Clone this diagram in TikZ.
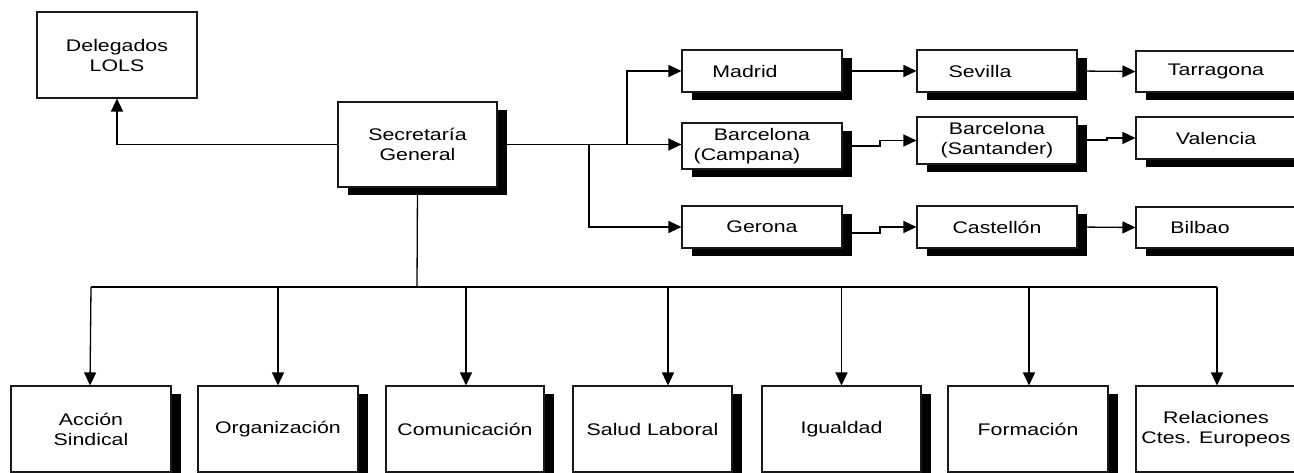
\documentclass[tikz,border=0pt]{standalone}
\usepackage{fontspec}
\setmainfont{Liberation Sans}[FakeStretch=1.27]
\usetikzlibrary{shadows,arrows.meta,calc}
\begin{document}
\begin{tikzpicture}[x=1pt,y=-1pt,
  box/.style={draw=black!90, line width=1.1pt, fill=white, align=center, inner sep=0pt,
    font=\fontsize{16.8}{20}\selectfont, text=black},
  sbox/.style={box, drop shadow={shadow xshift=10pt, shadow yshift=-8pt, fill=black, opacity=1}},
  arr/.style={line width=1.3pt, -{Triangle[length=13pt,width=12pt]}},
  ln/.style={line width=1.3pt}]
\clip (0,0) rectangle (1294,473);
\fill[white] (0,0) rectangle (1294,473);
% top-left
\node[box, minimum width=160pt, minimum height=86pt] (del) at (117,55) {Delegados\\LOLS};
\node[sbox, minimum width=159pt, minimum height=85pt] (sec) at (417.5,144.5) {Secretaría\\General};
% right grid
\node[sbox, minimum width=160pt, minimum height=42pt] (mad) at (762,71) {Madrid\hspace*{34pt}};
\node[sbox, minimum width=160pt, minimum height=46pt] (camp) at (762,146) {Barcelona\\(Campana)\hspace*{30pt}};
\node[sbox, minimum width=160pt, minimum height=42pt] (ger) at (762,227) {Gerona};
\node[sbox, minimum width=160pt, minimum height=42pt] (sev) at (997,71) {Sevilla\hspace*{34pt}};
\node[sbox, minimum width=160pt, minimum height=47pt] (sant) at (997,140.5) {Barcelona\\(Santander)};
\node[sbox, minimum width=160pt, minimum height=42pt] (cast) at (997,227) {Castellón};
\node[sbox, minimum width=160pt, minimum height=41pt] (tar) at (1216,71.5) {Tarragona};
\node[sbox, minimum width=160pt, minimum height=42pt] (val) at (1216,138) {Valencia};
\node[sbox, minimum width=160pt, minimum height=41pt] (bil) at (1216,227.5) {Bilbao\hspace*{32pt}};
% bottom row
\node[sbox, minimum width=160pt, minimum height=86pt] (acc) at (91,429) {Acción\\Sindical};
\node[sbox, minimum width=160pt, minimum height=86pt] (org) at (278,429) {Organización};
\node[sbox, minimum width=158pt, minimum height=86pt] (com) at (465,429) {Comunicación};
\node[sbox, minimum width=159pt, minimum height=86pt] (sal) at (652.5,429) {Salud Laboral};
\node[sbox, minimum width=159pt, minimum height=86pt] (igu) at (841.5,429) {Igualdad};
\node[sbox, minimum width=160pt, minimum height=86pt] (for) at (1028,429) {Formación};
\node[sbox, minimum width=160pt, minimum height=86pt] (rel) at (1216,429) {Relaciones\\Ctes. Europeos};
% junction coordinates
\coordinate (j1) at (627,144);
\coordinate (j2) at (589,144);
\coordinate (jx) at (880,0);
\coordinate (jy) at (1107,0);
\coordinate (bus) at (417,287);
% connectors
\draw[arr] (sec.west) -| (del.south);
\draw[arr] (sec.east) -- (sec.east -| camp.west);
\draw[arr] (j1) |- (mad.west);
\draw[arr] (j2) |- (ger.west);
\draw[arr] (mad.east) -- (sev.west);
\draw[arr] (sev.east) -- (tar.west);
\draw[arr] (camp.east) -- (camp.east -| jx) |- (sant.west);
\draw[arr] ($(sant.east)+(0,-0.5)$) -- ($(sant.east -| jy)+(0,-0.5)$) |- (val.west);
\draw[arr] ($(ger.east)+(0,6)$) -- ($(ger.east -| jx)+(0,6)$) |- (cast.west);
\draw[arr] (cast.east) -- (bil.west);
\draw[ln] (sec.south) -- (bus);
\draw[ln] (acc.north |- bus) -- ($(rel.north |- bus)+(1,0)$);
\draw[arr] (acc.north |- bus) -- ($(acc.north)+(-1,0)$);
\draw[arr] (org.north |- bus) -- (org.north);
\draw[arr] ($(com.north |- bus)+(1,0)$) -- ($(com.north)+(1,0)$);
\draw[arr] ($(sal.north |- bus)+(15.5,0)$) -- ($(sal.north)+(15.5,0)$);
\draw[arr] (igu.north |- bus) -- (igu.north);
\draw[arr] ($(for.north |- bus)+(1,0)$) -- ($(for.north)+(1,0)$);
\draw[arr] ($(rel.north |- bus)+(1,0)$) -- ($(rel.north)+(1,0)$);
\end{tikzpicture}
\end{document}
